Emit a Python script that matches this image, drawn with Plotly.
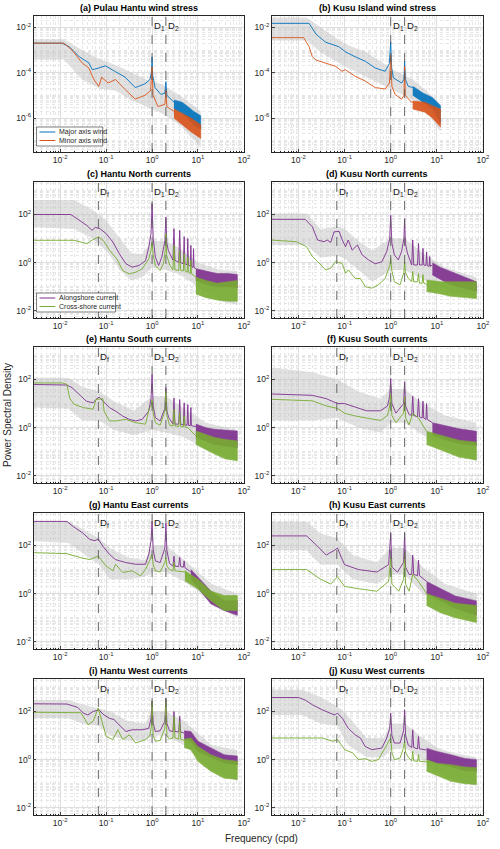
import math
import plotly.graph_objects as go

BLUE, ORANGE, PURPLE, GREEN = "#0072BD", "#D95319", "#7E2F8E", "#77AC30"
D_F, D_1, D_2 = 0.0677, 1.0, 2.0

# ---------------- (a) Pulau Hantu wind stress ----------------
A_MAJ_F = [0.0026, 0.011, 0.016, 0.026, 0.042, 0.05, 0.069, 0.097, 0.16, 0.26, 0.43, 0.7, 0.9, 0.97, 1.0, 1.03, 1.16, 1.56, 1.9, 2.0, 2.1, 2.4, 3.0]
A_MAJ_P = [2e-3, 2e-3, 1.35e-3, 5e-4, 2.7e-4, 1.35e-4, 1.6e-4, 2e-4, 1.1e-4, 6.3e-5, 2.2e-5, 3.2e-5, 5e-5, 1e-4, 5e-4, 8e-5, 2.2e-5, 1.1e-5, 1.25e-5, 4e-5, 1e-5, 8e-6, 5e-6]
A_MAJ_HF_F = [3.0, 4.5, 6.0, 8.0, 11.5]
A_MAJ_HF_HI = [6.3e-6, 5e-6, 3.2e-6, 2e-6, 1.26e-6]
A_MAJ_HF_LO = [2.5e-6, 1.6e-6, 1e-6, 5e-7, 3.2e-7]
A_MIN_F = [0.0026, 0.012, 0.018, 0.03, 0.042, 0.054, 0.069, 0.08, 0.11, 0.16, 0.26, 0.43, 0.7, 0.93, 1.0, 1.05, 1.35, 1.9, 2.0, 2.1, 2.5, 3.0]
A_MIN_P = [2e-3, 2e-3, 1e-3, 2.7e-4, 1.6e-4, 5e-5, 2.5e-5, 6.3e-5, 3.5e-5, 5e-5, 1.8e-5, 6.8e-6, 1e-5, 1.6e-5, 1.8e-4, 1e-5, 3.2e-6, 4e-6, 1.6e-5, 3.2e-6, 2.5e-6, 2e-6]
A_MIN_HF_F = [3.0, 4.5, 7.0, 11.5]
A_MIN_HF_HI = [2.5e-6, 1.6e-6, 1e-6, 5e-7]
A_MIN_HF_LO = [1e-6, 5e-7, 2.5e-7, 1.26e-7]
A_CI_F = [0.0026, 0.012, 0.03, 0.07, 0.16, 0.35, 0.75, 1.6, 4.0, 11.5]
A_CI_HI = [3e-3, 3e-3, 1e-3, 4e-4, 2.2e-4, 1e-4, 5e-5, 3.2e-5, 1e-5, 2e-6]
A_CI_LO = [3.8e-4, 3.8e-4, 5e-5, 2e-5, 1.6e-5, 6.3e-6, 3.2e-6, 1.6e-6, 5e-7, 5e-8]

# ---------------- (b) Kusu Island wind stress ----------------
B_MAJ_F = [0.0025, 0.017, 0.024, 0.039, 0.075, 0.104, 0.17, 0.28, 0.46, 0.76, 0.93, 1.0, 1.05, 1.14, 1.72, 1.93, 2.0, 2.08, 2.4, 3.0]
B_MAJ_P = [1.5e-2, 1.5e-2, 5e-3, 2.2e-3, 1.4e-3, 8.3e-4, 5e-4, 3.2e-4, 1.6e-4, 1.15e-4, 2.5e-4, 2.2e-3, 1.6e-4, 5.9e-5, 3.5e-5, 5e-5, 3.2e-4, 5e-5, 2.5e-5, 2.2e-5]
B_MAJ_HF_F = [3.0, 5.0, 8.0, 12.0]
B_MAJ_HF_HI = [2.5e-5, 1.26e-5, 8e-6, 3.5e-6]
B_MAJ_HF_LO = [1e-5, 5e-6, 2.5e-6, 6.3e-7]
B_MIN_F = [0.0025, 0.013, 0.017, 0.02, 0.024, 0.039, 0.064, 0.088, 0.104, 0.17, 0.28, 0.46, 0.76, 0.94, 1.0, 1.06, 1.24, 1.72, 1.94, 2.0, 2.07, 2.8, 3.0]
B_MIN_P = [3.5e-3, 3.5e-3, 1.4e-3, 5e-4, 3.6e-4, 2.6e-4, 1.9e-4, 1.15e-4, 1.35e-4, 6.9e-5, 4.3e-5, 2.2e-5, 1.9e-5, 3.5e-5, 6e-4, 2.5e-5, 1.1e-5, 6.8e-6, 1e-5, 1.9e-4, 1e-5, 5e-6, 5e-6]
B_MIN_HF_F = [3.0, 5.5, 8.0, 12.0]
B_MIN_HF_HI = [5.6e-6, 5e-6, 3.5e-6, 2.5e-6]
B_MIN_HF_LO = [2.5e-6, 1.8e-6, 1e-6, 4e-7]
B_CI_F = [0.0025, 0.015, 0.03, 0.1, 0.3, 0.6, 1.2, 3.0, 6.0, 12.0]
B_CI_HI = [2.7e-2, 2.7e-2, 1e-2, 1.9e-3, 8e-4, 3.2e-4, 1.26e-4, 5e-5, 1.6e-5, 4e-6]
B_CI_LO = [2.6e-3, 2.6e-3, 8e-4, 1.9e-4, 6.3e-5, 3.2e-5, 1.6e-5, 6.3e-6, 2e-6, 2.5e-7]

# ---------------- (c) Hantu North currents ----------------
C_ALO_F = [0.0027, 0.017, 0.023, 0.038, 0.049, 0.058, 0.073, 0.1, 0.14, 0.195, 0.27, 0.37, 0.52, 0.72, 0.85, 0.95, 1.0, 1.06, 1.18, 1.39, 1.63, 1.9, 2.0, 2.1, 2.26, 2.85, 3.0, 3.15, 3.8, 4.0, 4.2, 4.8, 5.0, 5.2, 5.8, 6.0, 6.2, 6.8, 7.0, 7.2, 7.8, 8.0, 8.2, 9.0]
C_ALO_P = [100, 100, 68, 35, 22, 29, 26, 16, 7.2, 2.3, 0.9, 0.65, 0.76, 1.2, 4.5, 16, 290, 10, 1.7, 0.76, 1.7, 7.9, 79, 6.3, 3.2, 1.26, 26, 1.26, 1.0, 22, 1.0, 0.9, 12, 0.9, 0.8, 10, 0.8, 0.7, 5.2, 0.7, 0.63, 3.8, 0.63, 0.56]
C_ALO_HF_F = [9.0, 15.0, 26.0, 45.0, 72.0]
C_ALO_HF_HI = [0.56, 0.45, 0.35, 0.35, 0.32]
C_ALO_HF_LO = [0.18, 0.126, 0.1, 0.1, 0.09]
C_CRO_F = [0.0027, 0.02, 0.028, 0.038, 0.049, 0.068, 0.086, 0.12, 0.17, 0.23, 0.32, 0.44, 0.61, 0.85, 0.95, 1.0, 1.06, 1.18, 1.5, 1.77, 1.93, 2.0, 2.08, 2.45, 2.85, 3.0, 3.15, 3.8, 4.0, 4.2, 4.8, 5.0, 5.2, 5.8, 6.0, 6.2, 6.8, 7.0, 7.2, 9.0]
C_CRO_P = [8.5, 8.5, 7.2, 6.2, 8.5, 11.7, 8.5, 3.2, 1.45, 0.47, 0.34, 0.4, 0.55, 1.45, 3.2, 7.2, 2.0, 0.76, 0.47, 0.9, 3.2, 16, 2.0, 0.76, 0.5, 5.2, 0.5, 0.47, 3.2, 0.47, 0.45, 2.3, 0.45, 0.4, 1.7, 0.4, 0.35, 1.26, 0.35, 0.25]
C_CRO_HF_F = [9.0, 15.0, 26.0, 45.0, 72.0]
C_CRO_HF_HI = [0.25, 0.18, 0.14, 0.16, 0.18]
C_CRO_HF_LO = [0.05, 0.035, 0.028, 0.025, 0.025]
C_CI_F = [0.0027, 0.02, 0.05, 0.1, 0.2, 0.35, 0.6, 1.0, 2.0, 4.0, 10.0, 30.0, 72.0]
C_CI_HI = [400, 400, 160, 58, 10, 2.5, 2.3, 7.9, 7.9, 4, 1.0, 0.5, 0.45]
C_CI_LO = [30, 25, 10, 3.2, 0.5, 0.18, 0.25, 0.63, 0.5, 0.32, 0.1, 0.025, 0.018]

# ---------------- (d) Kusu North currents ----------------
D_ALO_F = [0.0026, 0.014, 0.02, 0.026, 0.036, 0.042, 0.05, 0.059, 0.076, 0.089, 0.105, 0.12, 0.146, 0.19, 0.24, 0.33, 0.46, 0.64, 0.82, 0.95, 1.0, 1.06, 1.2, 1.46, 1.72, 1.93, 2.0, 2.08, 2.3, 2.85, 3.0, 3.15, 3.8, 4.0, 4.2, 4.8, 5.0, 5.2, 5.8, 6.0, 6.2, 6.8, 7.0, 7.2, 8.0]
D_ALO_P = [63, 63, 31, 8.7, 7.4, 8.7, 6.9, 19, 20, 8.7, 4.6, 8.7, 3.3, 5.4, 2.1, 1.3, 0.9, 1.07, 2.9, 10, 93, 6.3, 2.1, 1.3, 2.9, 10, 68, 6.3, 2.5, 0.8, 8.7, 0.8, 0.8, 6.3, 0.8, 0.8, 3.9, 0.8, 0.76, 2.8, 0.76, 0.7, 1.8, 0.7, 0.8]
D_ALO_HF_F = [8.0, 12.0, 20.0, 35.0, 72.0]
D_ALO_HF_HI = [1.0, 0.63, 0.43, 0.28, 0.16]
D_ALO_HF_LO = [0.31, 0.2, 0.12, 0.09, 0.063]
D_CRO_F = [0.0026, 0.009, 0.015, 0.02, 0.026, 0.039, 0.05, 0.064, 0.089, 0.105, 0.12, 0.17, 0.22, 0.28, 0.39, 0.54, 0.76, 0.89, 0.96, 1.0, 1.05, 1.2, 1.6, 1.93, 2.0, 2.08, 2.4, 2.85, 3.0, 3.15, 3.8, 4.0, 4.2, 4.8, 5.0, 5.2, 6.0]
D_CRO_P = [8.7, 7.4, 4.6, 1.8, 1.1, 0.5, 0.59, 1.1, 0.93, 0.36, 0.5, 0.22, 0.22, 0.1, 0.087, 0.12, 0.22, 0.59, 0.8, 1.5, 0.5, 0.16, 0.12, 0.4, 1.1, 0.4, 0.22, 0.16, 0.43, 0.16, 0.16, 0.35, 0.14, 0.14, 0.32, 0.14, 0.126]
D_CRO_HF_F = [6.0, 12.0, 20.0, 35.0, 72.0]
D_CRO_HF_HI = [0.19, 0.16, 0.16, 0.16, 0.16]
D_CRO_HF_LO = [0.063, 0.05, 0.04, 0.035, 0.032]
D_CI_F = [0.0026, 0.015, 0.03, 0.07, 0.1, 0.2, 0.4, 1.0, 2.0, 5.0, 15.0, 72.0]
D_CI_HI = [110, 110, 25, 32, 26, 7.9, 3.2, 10, 10, 2.5, 0.63, 0.25]
D_CI_LO = [5.4, 5.4, 1.6, 2, 1.5, 0.5, 0.16, 0.5, 0.5, 0.2, 0.08, 0.032]

# ---------------- (e) Hantu South currents ----------------
E_ALO_F = [0.0027, 0.014, 0.018, 0.028, 0.037, 0.052, 0.06, 0.07, 0.085, 0.118, 0.16, 0.23, 0.32, 0.44, 0.61, 0.85, 0.95, 1.0, 1.06, 1.18, 1.5, 1.9, 2.0, 2.1, 2.3, 2.85, 3.0, 3.15, 3.8, 4.0, 4.2, 4.8, 5.0, 5.2, 5.8, 6.0, 6.2, 6.8, 7.0, 7.2, 9.0]
E_ALO_P = [62, 59, 46, 20, 12.6, 10.7, 14.8, 18.6, 12.6, 6.8, 4.9, 3.0, 2.2, 1.9, 2.2, 4.9, 16, 160, 7.9, 2.6, 1.9, 6.3, 46, 5, 2.6, 1.4, 17, 1.4, 1.4, 14.8, 1.4, 1.3, 10.7, 1.3, 1.26, 9.1, 1.26, 1.2, 6.8, 1.2, 1.1]
E_ALO_HF_F = [9.0, 15.0, 23.0, 40.0, 72.0]
E_ALO_HF_HI = [1.4, 1.0, 0.85, 0.8, 0.72]
E_ALO_HF_LO = [0.39, 0.28, 0.2, 0.18, 0.15]
E_CRO_F = [0.0027, 0.011, 0.014, 0.016, 0.02, 0.032, 0.052, 0.06, 0.085, 0.09, 0.118, 0.16, 0.27, 0.44, 0.72, 0.88, 0.96, 1.0, 1.06, 1.18, 1.5, 1.9, 2.0, 2.1, 2.4, 2.85, 3.0, 3.15, 3.8, 4.0, 4.2, 4.8, 5.0, 5.2, 6.0, 9.0]
E_CRO_P = [72, 72, 63, 17, 9.3, 6.8, 5.8, 14.8, 16, 4.9, 1.9, 1.9, 2.2, 1.6, 1.4, 6.8, 7.9, 14.8, 4, 1.6, 1.26, 5, 33, 3.2, 1.26, 1.17, 5.8, 1.17, 1.12, 4.2, 1.12, 1.07, 3.0, 1.07, 1.0, 0.45]
E_CRO_HF_F = [9.0, 15.0, 23.0, 40.0, 72.0]
E_CRO_HF_HI = [0.72, 0.5, 0.39, 0.32, 0.28]
E_CRO_HF_LO = [0.2, 0.126, 0.08, 0.05, 0.042]
E_CI_F = [0.0027, 0.015, 0.03, 0.07, 0.15, 0.4, 1.0, 2.0, 5.0, 15.0, 72.0]
E_CI_HI = [117, 117, 50, 32, 12.6, 5, 20, 20, 6.3, 1.6, 0.8]
E_CI_LO = [6.8, 6.3, 2, 2, 0.8, 0.5, 0.8, 0.63, 0.4, 0.126, 0.042]

# ---------------- (f) Kusu South currents ----------------
F_ALO_F = [0.0026, 0.02, 0.04, 0.07, 0.1, 0.15, 0.3, 0.6, 0.85, 0.95, 1.0, 1.06, 1.3, 1.9, 2.0, 2.1, 2.5, 2.85, 3.0, 3.15, 3.8, 4.0, 4.2, 4.8, 5.0, 5.2, 5.8, 6.0, 6.2, 8.0]
F_ALO_P = [25, 22, 16, 10, 10, 7.9, 5, 5, 7.9, 20, 110, 10, 4, 10, 80, 7.9, 3.5, 3.2, 20, 3.2, 2.8, 16, 2.8, 2.5, 12.6, 2.5, 2.2, 10, 2.2, 1.6]
F_ALO_HF_F = [8.0, 15.0, 30.0, 72.0]
F_ALO_HF_HI = [1.6, 1.2, 0.9, 0.7]
F_ALO_HF_LO = [0.5, 0.32, 0.22, 0.18]
F_CRO_F = [0.0026, 0.02, 0.04, 0.07, 0.1, 0.15, 0.3, 0.6, 0.85, 0.95, 1.0, 1.06, 1.3, 1.9, 2.0, 2.1, 2.5, 3.0, 4.0, 6.0]
F_CRO_P = [15, 13, 8, 6.3, 4, 3.2, 2.5, 2.0, 3.2, 7.9, 25, 3.2, 1.6, 4, 20, 2.5, 1.3, 4, 2.5, 0.7]
F_CRO_HF_F = [6.0, 15.0, 30.0, 72.0]
F_CRO_HF_HI = [0.7, 0.45, 0.3, 0.25]
F_CRO_HF_LO = [0.2, 0.1, 0.06, 0.045]
F_CI_F = [0.0026, 0.02, 0.07, 0.2, 0.6, 1.0, 2.0, 5.0, 15.0, 72.0]
F_CI_HI = [316, 200, 100, 32, 16, 40, 40, 10, 3.2, 1.6]
F_CI_LO = [2, 2, 2.5, 1, 0.63, 1.6, 1.6, 0.5, 0.16, 0.04]

# ---------------- (g) Hantu East currents ----------------
G_ALO_F = [0.0027, 0.014, 0.019, 0.031, 0.044, 0.057, 0.067, 0.085, 0.118, 0.16, 0.27, 0.44, 0.72, 0.85, 0.95, 1.0, 1.06, 1.18, 1.5, 1.9, 2.0, 2.1, 2.4, 2.85, 3.0, 3.15, 3.8, 4.0, 4.2, 4.8, 5.0, 5.2, 7.0]
G_ALO_P = [1000, 1000, 620, 330, 178, 158, 186, 93, 43, 26, 19.5, 16.6, 16.6, 43, 158, 1000, 63, 23, 19.5, 79, 850, 63, 17.8, 14, 36, 14, 13.2, 32, 13.2, 12.6, 23, 12, 7.9]
G_ALO_HF_F = [7.0, 10.0, 19.0, 37.0, 72.0]
G_ALO_HF_HI = [10, 4.7, 1.3, 0.51, 0.51]
G_ALO_HF_LO = [4, 1.8, 0.38, 0.2, 0.126]
G_CRO_F = [0.0027, 0.014, 0.028, 0.044, 0.067, 0.1, 0.14, 0.16, 0.23, 0.37, 0.56, 0.72, 0.88, 0.96, 1.0, 1.06, 1.18, 1.5, 1.9, 2.0, 2.1, 2.4, 2.85, 3.0, 3.15, 5.2]
G_CRO_P = [50, 46, 31, 26, 36, 14, 8.9, 16.6, 7.6, 8.9, 5.5, 10.2, 23, 32, 43, 16, 8.9, 7.9, 20, 31, 14, 10, 8.9, 20, 8.9, 7.9]
G_CRO_HF_F = [5.2, 10.0, 19.0, 37.0, 72.0]
G_CRO_HF_HI = [8.9, 4, 1.3, 0.83, 0.83]
G_CRO_HF_LO = [3.4, 1.55, 0.51, 0.2, 0.2]
G_CI_F = [0.0027, 0.015, 0.03, 0.07, 0.12, 0.3, 0.7, 1.0, 2.0, 5.0, 10.0, 20.0, 72.0]
G_CI_HI = [1000, 1000, 500, 200, 79, 32, 25, 100, 100, 25, 7.9, 2.5, 1.0]
G_CI_LO = [150, 126, 50, 16, 4, 4, 5, 7.9, 7.9, 3.2, 1.26, 0.4, 0.1]

# ---------------- (h) Kusu East currents ----------------
H_ALO_F = [0.0026, 0.015, 0.025, 0.04, 0.06, 0.07, 0.085, 0.1, 0.2, 0.5, 0.9, 1.0, 1.06, 1.4, 1.9, 2.0, 2.1, 2.5, 2.85, 3.0, 3.15, 3.8, 4.0, 4.2, 6.0]
H_ALO_P = [250, 250, 100, 40, 63, 79, 32, 16, 10, 7.9, 16, 316, 12.6, 7.9, 20, 316, 12.6, 6.3, 6.3, 40, 6.3, 5.6, 25, 5.6, 3.2]
H_ALO_HF_F = [6.0, 12.0, 25.0, 72.0]
H_ALO_HF_HI = [3.2, 1.6, 0.8, 0.5]
H_ALO_HF_LO = [1.0, 0.5, 0.25, 0.126]
H_CRO_F = [0.0026, 0.015, 0.03, 0.05, 0.07, 0.1, 0.2, 0.5, 0.9, 1.0, 1.06, 1.5, 1.9, 2.0, 2.1, 2.5, 3.0, 4.0, 6.0]
H_CRO_P = [10, 10, 4, 2.5, 5, 2, 1.6, 1.26, 3.2, 32, 2.5, 1.26, 4, 50, 2.5, 1.26, 6.3, 3.2, 1.0]
H_CRO_HF_F = [6.0, 12.0, 25.0, 72.0]
H_CRO_HF_HI = [1.0, 0.63, 0.4, 0.32]
H_CRO_HF_LO = [0.32, 0.16, 0.1, 0.063]
H_CI_F = [0.0026, 0.015, 0.03, 0.07, 0.15, 0.5, 1.0, 2.0, 5.0, 15.0, 72.0]
H_CI_HI = [1000, 1000, 316, 200, 40, 20, 79, 79, 12.6, 2.5, 1.0]
H_CI_LO = [63, 63, 16, 16, 4, 2.5, 6.3, 6.3, 1, 0.25, 0.063]

# ---------------- (i) Hantu West currents ----------------
I_ALO_F = [0.0027, 0.014, 0.024, 0.032, 0.04, 0.052, 0.07, 0.085, 0.118, 0.15, 0.19, 0.27, 0.37, 0.61, 0.85, 0.95, 1.0, 1.06, 1.18, 1.5, 1.9, 2.0, 2.1, 2.4, 2.85, 3.0, 3.15, 3.8, 4.0, 4.2, 5.0]
I_ALO_P = [209, 204, 148, 85, 72, 100, 117, 78, 52, 46, 28, 14.8, 17.4, 17.4, 20, 50, 275, 32, 14.8, 15.8, 40, 355, 32, 15.8, 14.8, 100, 14.8, 14.1, 63, 14.1, 12.6]
I_ALO_HF_F = [5.0, 7.0, 10.0, 19.0, 37.0, 72.0]
I_ALO_HF_HI = [15.8, 14.8, 5.8, 3.2, 1.6, 1.4]
I_ALO_HF_LO = [7.1, 5.8, 2.2, 1.26, 0.72, 0.63]
I_CRO_F = [0.0027, 0.014, 0.028, 0.035, 0.04, 0.052, 0.067, 0.085, 0.1, 0.14, 0.18, 0.23, 0.32, 0.44, 0.72, 0.9, 0.97, 1.0, 1.06, 1.18, 1.5, 1.9, 2.0, 2.1, 2.4, 2.85, 3.0, 3.15, 3.8, 4.0, 4.2, 5.0]
I_CRO_P = [93, 91, 89, 46, 28, 39, 138, 28, 9.3, 6.8, 17.4, 6.8, 10.7, 4.9, 6.8, 10, 25, 257, 10, 5.8, 6.3, 20, 302, 10, 7.1, 7.9, 62, 7.9, 7.1, 39, 7.1, 6.3]
I_CRO_HF_F = [5.0, 7.0, 10.0, 19.0, 37.0, 72.0]
I_CRO_HF_HI = [7.1, 7.9, 3.5, 1.6, 1.0, 0.85]
I_CRO_HF_LO = [3.2, 2.6, 0.85, 0.33, 0.17, 0.15]
I_CI_F = [0.0027, 0.015, 0.03, 0.07, 0.12, 0.3, 0.7, 1.0, 2.0, 5.0, 10.0, 20.0, 72.0]
I_CI_HI = [300, 300, 200, 126, 100, 40, 32, 100, 100, 40, 12.6, 4, 2.5]
I_CI_LO = [52, 52, 32, 25, 10, 6.3, 6.3, 10, 10, 4, 1.26, 0.4, 0.126]

# ---------------- (j) Kusu West currents ----------------
J_ALO_F = [0.0026, 0.01, 0.014, 0.02, 0.033, 0.05, 0.06, 0.07, 0.09, 0.12, 0.17, 0.22, 0.28, 0.39, 0.64, 0.82, 0.95, 1.0, 1.06, 1.2, 1.6, 1.9, 2.0, 2.1, 2.4, 2.85, 3.0, 3.15, 3.8, 4.0, 4.2, 6.0]
J_ALO_P = [380, 380, 300, 190, 117, 85, 72, 85, 52, 20, 10.7, 7.9, 3.5, 2.6, 3.0, 7.9, 20, 85, 10, 4.9, 4.9, 15.8, 117, 10, 4, 3.2, 17.4, 3.2, 2.8, 9.1, 2.8, 2.5]
J_ALO_HF_F = [6.0, 10.0, 20.0, 40.0, 72.0]
J_ALO_HF_HI = [3.0, 2.2, 1.6, 1.12, 1.0]
J_ALO_HF_LO = [1.0, 0.7, 0.52, 0.35, 0.33]
J_CRO_F = [0.0026, 0.033, 0.055, 0.07, 0.09, 0.1, 0.15, 0.2, 0.28, 0.39, 0.54, 0.82, 0.95, 1.0, 1.06, 1.2, 1.6, 1.9, 2.0, 2.1, 2.4, 2.85, 3.0, 3.15, 3.8, 4.0, 4.2, 6.0]
J_CRO_P = [7.9, 7.9, 5.8, 6.8, 3.5, 2.6, 1.9, 1.0, 1.1, 0.85, 1.0, 4.2, 6.3, 7.9, 2.0, 1.0, 1.17, 3.2, 5.8, 2.0, 1.26, 0.9, 2.2, 0.9, 0.85, 1.6, 0.85, 0.8]
J_CRO_HF_F = [6.0, 10.0, 20.0, 40.0, 72.0]
J_CRO_HF_HI = [1.0, 0.7, 0.62, 0.5, 0.46]
J_CRO_HF_LO = [0.33, 0.22, 0.126, 0.1, 0.093]
J_CI_F = [0.0026, 0.012, 0.03, 0.07, 0.12, 0.3, 0.7, 1.0, 2.0, 5.0, 10.0, 20.0, 72.0]
J_CI_HI = [800, 800, 400, 160, 63, 7.9, 7.9, 32, 32, 7.9, 3.2, 2, 1.26]
J_CI_LO = [72, 72, 32, 25, 4, 1.26, 1.26, 2.5, 3.2, 1, 0.32, 0.16, 0.08]

WIND_NAMES = ["Major axis wind", "Minor axis wind"]
CUR_NAMES = ["Alongshore current", "Cross-shore current"]
X_TICKS = [1e-2, 1e-1, 1e0, 1e1, 1e2]
X_TICKTEXT = ["10<sup>-2</sup>", "10<sup>-1</sup>", "10<sup>0</sup>", "10<sup>1</sup>", "10<sup>2</sup>"]
WIND_YTICKS = [1e-6, 1e-4, 1e-2]
WIND_YTEXT = ["10<sup>-6</sup>", "10<sup>-4</sup>", "10<sup>-2</sup>"]
CUR_YTICKS = [1e-2, 1e0, 1e2]
CUR_YTEXT = ["10<sup>-2</sup>", "10<sup>0</sup>", "10<sup>2</sup>"]

PANELS = [
    ("(a) Pulau Hantu wind stress", 0, 0, "wind", (BLUE, ORANGE),
     [(A_MAJ_F, A_MAJ_P, A_MAJ_HF_F, A_MAJ_HF_HI, A_MAJ_HF_LO), (A_MIN_F, A_MIN_P, A_MIN_HF_F, A_MIN_HF_HI, A_MIN_HF_LO)],
     (A_CI_F, A_CI_HI, A_CI_LO), True),
    ("(b) Kusu Island wind stress", 0, 1, "wind", (BLUE, ORANGE),
     [(B_MAJ_F, B_MAJ_P, B_MAJ_HF_F, B_MAJ_HF_HI, B_MAJ_HF_LO), (B_MIN_F, B_MIN_P, B_MIN_HF_F, B_MIN_HF_HI, B_MIN_HF_LO)],
     (B_CI_F, B_CI_HI, B_CI_LO), False),
    ("(c) Hantu North currents", 1, 0, "cur", (PURPLE, GREEN),
     [(C_ALO_F, C_ALO_P, C_ALO_HF_F, C_ALO_HF_HI, C_ALO_HF_LO), (C_CRO_F, C_CRO_P, C_CRO_HF_F, C_CRO_HF_HI, C_CRO_HF_LO)],
     (C_CI_F, C_CI_HI, C_CI_LO), True),
    ("(d) Kusu North currents", 1, 1, "cur", (PURPLE, GREEN),
     [(D_ALO_F, D_ALO_P, D_ALO_HF_F, D_ALO_HF_HI, D_ALO_HF_LO), (D_CRO_F, D_CRO_P, D_CRO_HF_F, D_CRO_HF_HI, D_CRO_HF_LO)],
     (D_CI_F, D_CI_HI, D_CI_LO), False),
    ("(e) Hantu South currents", 2, 0, "cur", (PURPLE, GREEN),
     [(E_ALO_F, E_ALO_P, E_ALO_HF_F, E_ALO_HF_HI, E_ALO_HF_LO), (E_CRO_F, E_CRO_P, E_CRO_HF_F, E_CRO_HF_HI, E_CRO_HF_LO)],
     (E_CI_F, E_CI_HI, E_CI_LO), False),
    ("(f) Kusu South currents", 2, 1, "cur", (PURPLE, GREEN),
     [(F_ALO_F, F_ALO_P, F_ALO_HF_F, F_ALO_HF_HI, F_ALO_HF_LO), (F_CRO_F, F_CRO_P, F_CRO_HF_F, F_CRO_HF_HI, F_CRO_HF_LO)],
     (F_CI_F, F_CI_HI, F_CI_LO), False),
    ("(g) Hantu East currents", 3, 0, "cur", (PURPLE, GREEN),
     [(G_ALO_F, G_ALO_P, G_ALO_HF_F, G_ALO_HF_HI, G_ALO_HF_LO), (G_CRO_F, G_CRO_P, G_CRO_HF_F, G_CRO_HF_HI, G_CRO_HF_LO)],
     (G_CI_F, G_CI_HI, G_CI_LO), False),
    ("(h) Kusu East currents", 3, 1, "cur", (PURPLE, GREEN),
     [(H_ALO_F, H_ALO_P, H_ALO_HF_F, H_ALO_HF_HI, H_ALO_HF_LO), (H_CRO_F, H_CRO_P, H_CRO_HF_F, H_CRO_HF_HI, H_CRO_HF_LO)],
     (H_CI_F, H_CI_HI, H_CI_LO), False),
    ("(i) Hantu West currents", 4, 0, "cur", (PURPLE, GREEN),
     [(I_ALO_F, I_ALO_P, I_ALO_HF_F, I_ALO_HF_HI, I_ALO_HF_LO), (I_CRO_F, I_CRO_P, I_CRO_HF_F, I_CRO_HF_HI, I_CRO_HF_LO)],
     (I_CI_F, I_CI_HI, I_CI_LO), False),
    ("(j) Kusu West currents", 4, 1, "cur", (PURPLE, GREEN),
     [(J_ALO_F, J_ALO_P, J_ALO_HF_F, J_ALO_HF_HI, J_ALO_HF_LO), (J_CRO_F, J_CRO_P, J_CRO_HF_F, J_CRO_HF_HI, J_CRO_HF_LO)],
     (J_CI_F, J_CI_HI, J_CI_LO), False),
]

W, H = 500, 849
ROW_TOP = [16, 182, 347, 513, 679]
ROW_H = 136
COL_PX = [(34, 247), (275, 489)]
FONT = "Liberation Sans, Arial, Helvetica, sans-serif"
AX_COLOR = "#262626"


def px(x):
    return x / W


def py(y):
    return 1 - y / H


X_MINOR = [m * 10.0 ** e for e in range(-3, 2) for m in range(2, 10)]
WIND_MINOR = [m * 10.0 ** e for e in range(-8, -1) for m in range(1, 10) if not (m == 1 and e % 2 == 0)]
CUR_MINOR = [m * 10.0 ** e for e in range(-3, 4) for m in range(1, 10) if not (m == 1 and e % 2 == 0)]

fig = go.Figure()
annotations = []
shapes = []

for idx, (title, row, col, kind, colors, series, ci, has_legend) in enumerate(PANELS):
    n = idx + 1
    xa = "x" if n == 1 else f"x{n}"
    ya = "y" if n == 1 else f"y{n}"
    names = WIND_NAMES if kind == "wind" else CUR_NAMES

    cf, chi, clo = ci
    fig.add_trace(go.Scatter(x=cf + cf[::-1], y=chi + clo[::-1], fill="toself",
                             fillcolor="rgba(195,195,195,0.5)", line=dict(width=0),
                             mode="lines", hoverinfo="skip", showlegend=False, xaxis=xa, yaxis=ya))
    for s, (f, p, hf, hhi, hlo) in enumerate(series):
        c = colors[s]
        fig.add_trace(go.Scatter(x=hf + hf[::-1], y=hhi + hlo[::-1], fill="toself", fillcolor=c,
                                 line=dict(width=0.6, color=c), mode="lines", opacity=0.9,
                                 hoverinfo="skip", showlegend=False, xaxis=xa, yaxis=ya))
        fig.add_trace(go.Scatter(x=f, y=p, mode="lines", line=dict(color=c, width=0.9), name=names[s],
                                 xaxis=xa, yaxis=ya, showlegend=False))

    x0, x1 = COL_PX[col]
    top = ROW_TOP[row]
    bot = top + ROW_H

    minor_x = dict(tickvals=X_MINOR, ticks="inside", ticklen=1.5, tickcolor=AX_COLOR,
                   showgrid=True, gridcolor="#e6e6e6", griddash="dot", gridwidth=0.5)
    fig.layout[f"xaxis{'' if n == 1 else n}"] = dict(
        domain=[px(x0), px(x1)], anchor=ya, type="log", range=[-2.58, 2.003],
        tickvals=X_TICKS, ticktext=X_TICKTEXT, ticks="inside", ticklen=3,
        showline=True, mirror=True, linecolor=AX_COLOR, linewidth=0.6,
        showgrid=True, gridcolor="#dedede", gridwidth=0.6, zeroline=False,
        tickfont=dict(size=8.5, color=AX_COLOR, family=FONT), minor=minor_x)
    if kind == "wind":
        yr, yt, ytt, ym = [-7.5, -1.5], WIND_YTICKS, WIND_YTEXT, WIND_MINOR
    else:
        yr, yt, ytt, ym = [-2.3, 3.35], CUR_YTICKS, CUR_YTEXT, CUR_MINOR
    fig.layout[f"yaxis{'' if n == 1 else n}"] = dict(
        domain=[py(bot), py(top)], anchor=xa, type="log", range=yr,
        tickvals=yt, ticktext=ytt, ticks="inside", ticklen=3,
        showline=True, mirror=True, linecolor=AX_COLOR, linewidth=0.6,
        showgrid=True, gridcolor="#dedede", gridwidth=0.6, zeroline=False,
        tickfont=dict(size=8.5, color=AX_COLOR, family=FONT),
        minor=dict(tickvals=ym, ticks="", showgrid=True, gridcolor="#e6e6e6",
                   griddash="dot", gridwidth=0.5))

    annotations.append(dict(text=f"<b>{title}</b>", xref="paper", yref="paper",
                            x=px((x0 + x1) / 2), y=py(top - 1), xanchor="center",
                            yanchor="bottom", showarrow=False,
                            font=dict(size=9, color="#000000", family=FONT)))
    dlines = [(D_1, "D<sub>1</sub>"), (D_2, "D<sub>2</sub>")]
    if kind == "cur":
        dlines = [(D_F, "D<sub>f</sub>")] + dlines
    for xv, lab in dlines:
        shapes.append(dict(type="line", xref=xa, yref=f"{ya} domain", x0=xv, x1=xv, y0=0, y1=1,
                           line=dict(color="#5a5a5a", width=0.9, dash="dash")))
        annotations.append(dict(text=lab, xref=xa, yref=f"{ya} domain", x=math.log10(xv), y=0.985,
                                xanchor="left", yanchor="top", showarrow=False,
                                font=dict(size=9.5, color="#1a1a1a", family=FONT)))

    if has_legend:
        box_w = 67 if kind == "wind" else 80
        lx0, ly1 = x0 + 3, bot - 6
        ly0 = ly1 - 19
        shapes.append(dict(type="rect", xref="paper", yref="paper",
                           x0=px(lx0), x1=px(lx0 + box_w), y0=py(ly1), y1=py(ly0),
                           fillcolor="white", line=dict(color=AX_COLOR, width=0.6), layer="above"))
        for s in range(2):
            yy = ly0 + 5 + s * 8.5
            shapes.append(dict(type="line", xref="paper", yref="paper",
                               x0=px(lx0 + 3), x1=px(lx0 + 19), y0=py(yy), y1=py(yy),
                               line=dict(color=colors[s], width=1.0), layer="above"))
            annotations.append(dict(text=names[s], xref="paper", yref="paper",
                                    x=px(lx0 + 21), y=py(yy), xanchor="left", yanchor="middle",
                                    showarrow=False,
                                    font=dict(size=7, color=AX_COLOR, family=FONT)))

annotations.append(dict(text="Power Spectral Density", xref="paper", yref="paper",
                        x=px(8), y=py(415), textangle=-90, showarrow=False,
                        xanchor="center", yanchor="middle",
                        font=dict(size=10, color=AX_COLOR, family=FONT)))
annotations.append(dict(text="Frequency (cpd)", xref="paper", yref="paper",
                        x=px(265), y=py(838), showarrow=False,
                        xanchor="center", yanchor="middle",
                        font=dict(size=10, color=AX_COLOR, family=FONT)))

fig.update_layout(
    width=W, height=H, margin=dict(l=0, r=0, t=0, b=0),
    paper_bgcolor="white", plot_bgcolor="white",
    annotations=annotations, shapes=shapes, showlegend=False,
)

fig.write_html("out.html", config={"displayModeBar": False},
               post_script="document.body.style.margin='0';document.body.style.padding='0';")
